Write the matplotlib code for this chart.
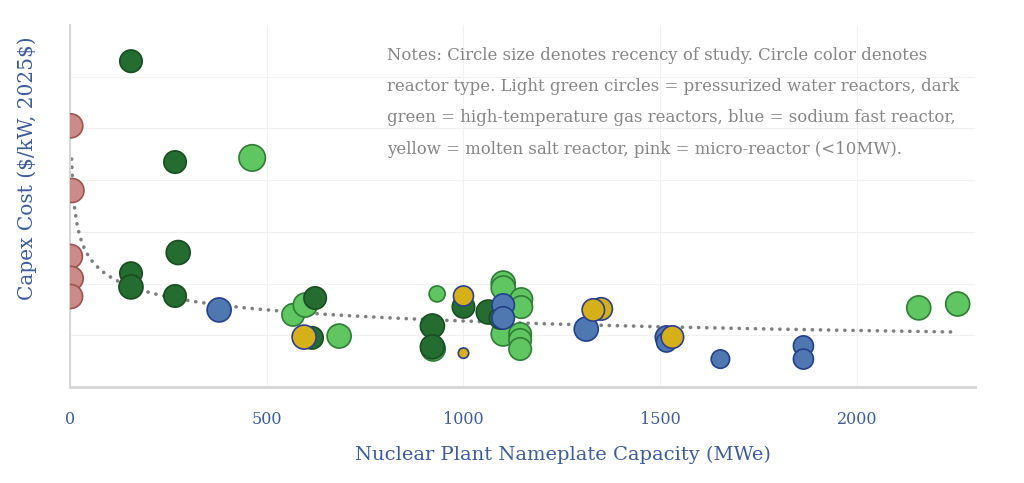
import numpy as np
import matplotlib
matplotlib.use("Agg")
import matplotlib.pyplot as plt

# capacity (MWe), capex ($/kW, 2025$), year of study (-> circle size)
pwr_mwe = [463, 567, 598, 684, 923, 933, 1101, 1101, 1147, 1147, 1101, 1144, 1144, 1144, 2157, 2256]
pwr_capex = [8860, 2790, 3170, 1970, 1470, 3600, 4020, 3830, 3400, 3090, 2050, 2050, 1820, 1470, 3060, 3210]
pwr_year = [2023, 2018, 2020, 2020, 2020, 2010, 2020, 2020, 2018, 2018, 2020, 2018, 2018, 2018, 2020, 2020]

htgr_mwe = [155, 267, 275, 155, 155, 267, 623, 615, 921, 921, 1000, 1063, 1094]
htgr_capex = [12600, 8700, 5200, 4400, 3870, 3520, 3440, 1900, 2360, 1550, 3100, 2900, 2670]
htgr_year = [2018, 2018, 2020, 2018, 2020, 2018, 2018, 2018, 2020, 2020, 2018, 2020, 2018]

sfr_mwe = [379, 1101, 1101, 1312, 1516, 1516, 1653, 1864, 1864]
sfr_capex = [2980, 3170, 2670, 2240, 1930, 1740, 1080, 1590, 1080]
sfr_year = [2020, 2018, 2018, 2020, 2018, 2015, 2013, 2015, 2015]

msr_mwe = [595, 1000, 1000, 1350, 1330, 1531]
msr_capex = [1930, 3520, 1310, 3020, 2980, 1930]
msr_year = [2020, 2015, 2003, 2018, 2018, 2018]

micro_mwe = [2, 5, 1, 3, 1.5]
micro_capex = [10100, 7600, 5050, 4200, 3500]
micro_year = [2020, 2020, 2020, 2020, 2020]

# power-law trend: capex = a * MWe^b
trend_a = 12036
trend_b = -0.2245
trend_range = (4, 2250)

notes_lines = [
    "Notes: Circle size denotes recency of study. Circle color denotes",
    "reactor type. Light green circles = pressurized water reactors, dark",
    "green = high-temperature gas reactors, blue = sodium fast reactor,",
    "yellow = molten salt reactor, pink = micro-reactor (<10MW).",
]

W, H, DPI = 1024, 483, 100
LABEL_BLUE = "#3d5c9c"
SERIF = ["DejaVu Serif"]


def marker_area(years):
    # radius in px grows with recency; convert to scatter area in pt^2
    r = 4 + (np.asarray(years) - 2000) * 0.4
    return (2 * r * 72 / DPI) ** 2


fig = plt.figure(figsize=(W / DPI, H / DPI), dpi=DPI)
ax = fig.add_axes([70 / W, 1 - 387 / H, 905 / W, 362 / H])

groups = [
    (pwr_mwe, pwr_capex, pwr_year, "#60c662", "#2f7d36"),
    (htgr_mwe, htgr_capex, htgr_year, "#246c2f", "#1a4d22"),
    (sfr_mwe, sfr_capex, sfr_year, "#4f78b1", "#243f8c"),
    (msr_mwe, msr_capex, msr_year, "#d6b018", "#2c3f8c"),
    (micro_mwe, micro_capex, micro_year, "#cc8b89", "#a0524d"),
]
for i, (x, y, yr, fc, ec) in enumerate(groups):
    ax.scatter(x, y, s=marker_area(yr), c=fc, edgecolors=ec, linewidths=1.2, zorder=3 + i * 0.1)

tx = np.linspace(trend_range[0], trend_range[1], 600)
ax.plot(tx, trend_a * tx ** trend_b, color="#808080", linestyle=(0, (0.05, 2.2)),
        linewidth=2.6, dash_capstyle="round", zorder=2.5)

ax.set_xlim(0, 2300)
ax.set_ylim(0, 14000)
ax.set_xticks([0, 500, 1000, 1500, 2000])
ax.set_yticks(np.arange(2000, 14000, 2000))
ax.set_yticklabels([])
ax.tick_params(axis="y", length=0)
ax.tick_params(axis="x", length=0, pad=17, labelsize=11.5, labelcolor=LABEL_BLUE)
for lab in ax.get_xticklabels():
    lab.set_family(SERIF)
ax.grid(True, color="#f1f1f1", linewidth=0.8, zorder=0)
ax.set_axisbelow(True)

for side in ["top", "right"]:
    ax.spines[side].set_visible(False)
ax.spines["left"].set_color("#d6d6d6")
ax.spines["left"].set_linewidth(1.5)
ax.spines["bottom"].set_color("#d6d6d6")
ax.spines["bottom"].set_linewidth(2)

fig.text(563 / W, 1 - 455 / H, "Nuclear Plant Nameplate Capacity (MWe)", ha="center", va="center",
         fontsize=14, color=LABEL_BLUE, family=SERIF)
fig.text(27 / W, 1 - 168 / H, "Capex Cost (\\$/kW, 2025\\$)", ha="center", va="center", rotation=90,
         fontsize=14.5, color=LABEL_BLUE, family=SERIF)

for k, line in enumerate(notes_lines):
    fig.text(387 / W, 1 - (55 + 31.5 * k) / H, line, ha="left", va="center",
             fontsize=11.9, color="#858585", family=SERIF)

fig.savefig("out.png", dpi=DPI)
